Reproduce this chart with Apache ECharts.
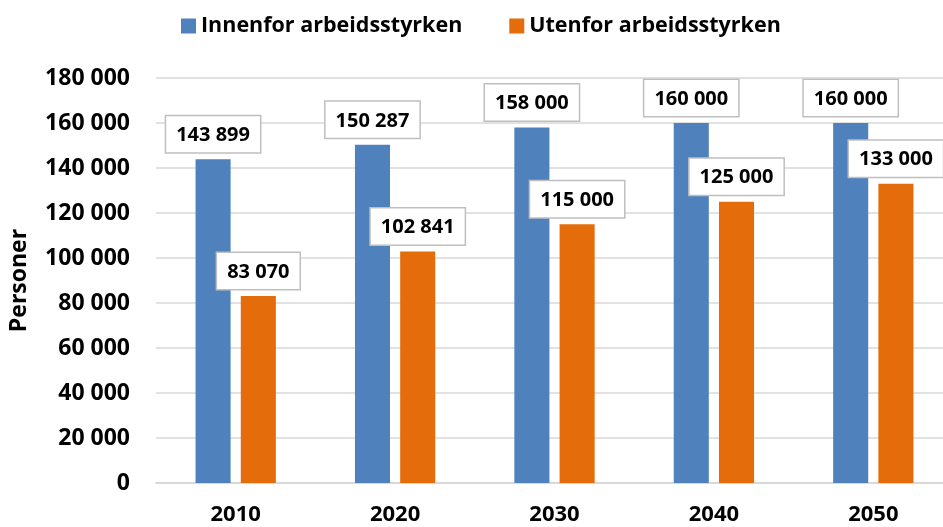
<!DOCTYPE html>
<html>
<head>
<meta charset="utf-8">
<script src="https://cdn.jsdelivr.net/npm/echarts@6/dist/echarts.min.js"></script>
<style>
  html, body { margin: 0; padding: 0; background: #fff; }
  #chart { width: 943px; height: 527px; }
</style>
</head>
<body>
<div id="chart"></div>
<script>
const years = ['2010', '2020', '2030', '2040', '2050'];
const innenfor = [143899, 150287, 158000, 160000, 160000];
const utenfor = [83070, 102841, 115000, 125000, 133000];
const seriesNames = ['Innenfor arbeidsstyrken', 'Utenfor arbeidsstyrken'];

const font = '"Open Sans", Calibri, sans-serif';

// 143899 -> "143 899"
const fmt = v => String(v).replace(/\B(?=(\d{3})+(?!\d))/g, ' ');

const labelStyle = {
  show: true,
  position: 'top',
  distance: 7,
  formatter: p => fmt(p.value),
  color: '#000',
  fontFamily: font,
  fontWeight: 'bold',
  fontSize: 20,
  backgroundColor: '#fff',
  borderColor: '#bfbfbf',
  borderWidth: 1.5,
  padding: [9, 10, 7, 10],
};

const myChart = echarts.init(document.getElementById('chart'));

const option = {
  animation: false,
  legend: {
    data: seriesNames,
    top: 10,
    left: 176,
    itemWidth: 15,
    itemHeight: 15,
    itemGap: 47,
    icon: 'rect',
    textStyle: {
      fontFamily: font,
      fontWeight: 'bold',
      fontSize: 21.5,
      color: '#000',
    },
  },
  grid: {
    left: 156,
    width: 797,
    top: 78,
    bottom: 44,
    outerBoundsMode: 'none',
  },
  xAxis: {
    type: 'category',
    data: years,
    axisTick: { show: false },
    axisLine: { lineStyle: { color: '#d9d9d9', width: 2 } },
    axisLabel: {
      margin: 21,
      color: '#000',
      fontFamily: font,
      fontWeight: 'bold',
      fontSize: 22,
    },
  },
  yAxis: {
    type: 'value',
    min: 0,
    max: 180000,
    interval: 20000,
    name: 'Personer',
    nameLocation: 'middle',
    nameGap: 125,
    nameTextStyle: {
      color: '#000',
      fontFamily: font,
      fontWeight: 'bold',
      fontSize: 23,
    },
    axisLabel: {
      margin: 26,
      formatter: v => fmt(v),
      color: '#000',
      fontFamily: font,
      fontWeight: 'bold',
      fontSize: 23,
    },
    splitLine: { lineStyle: { color: '#d9d9d9', width: 1.5 } },
  },
  series: [
    {
      name: seriesNames[0],
      type: 'bar',
      data: innenfor,
      barWidth: '22%',
      barGap: '29%',
      itemStyle: { color: '#4f81bd' },
      label: labelStyle,
    },
    {
      name: seriesNames[1],
      type: 'bar',
      data: utenfor,
      barWidth: '22%',
      itemStyle: { color: '#e46c0a' },
      label: labelStyle,
    },
  ],
};

myChart.setOption(option);
window.addEventListener('resize', myChart.resize);
</script>
</body>
</html>
